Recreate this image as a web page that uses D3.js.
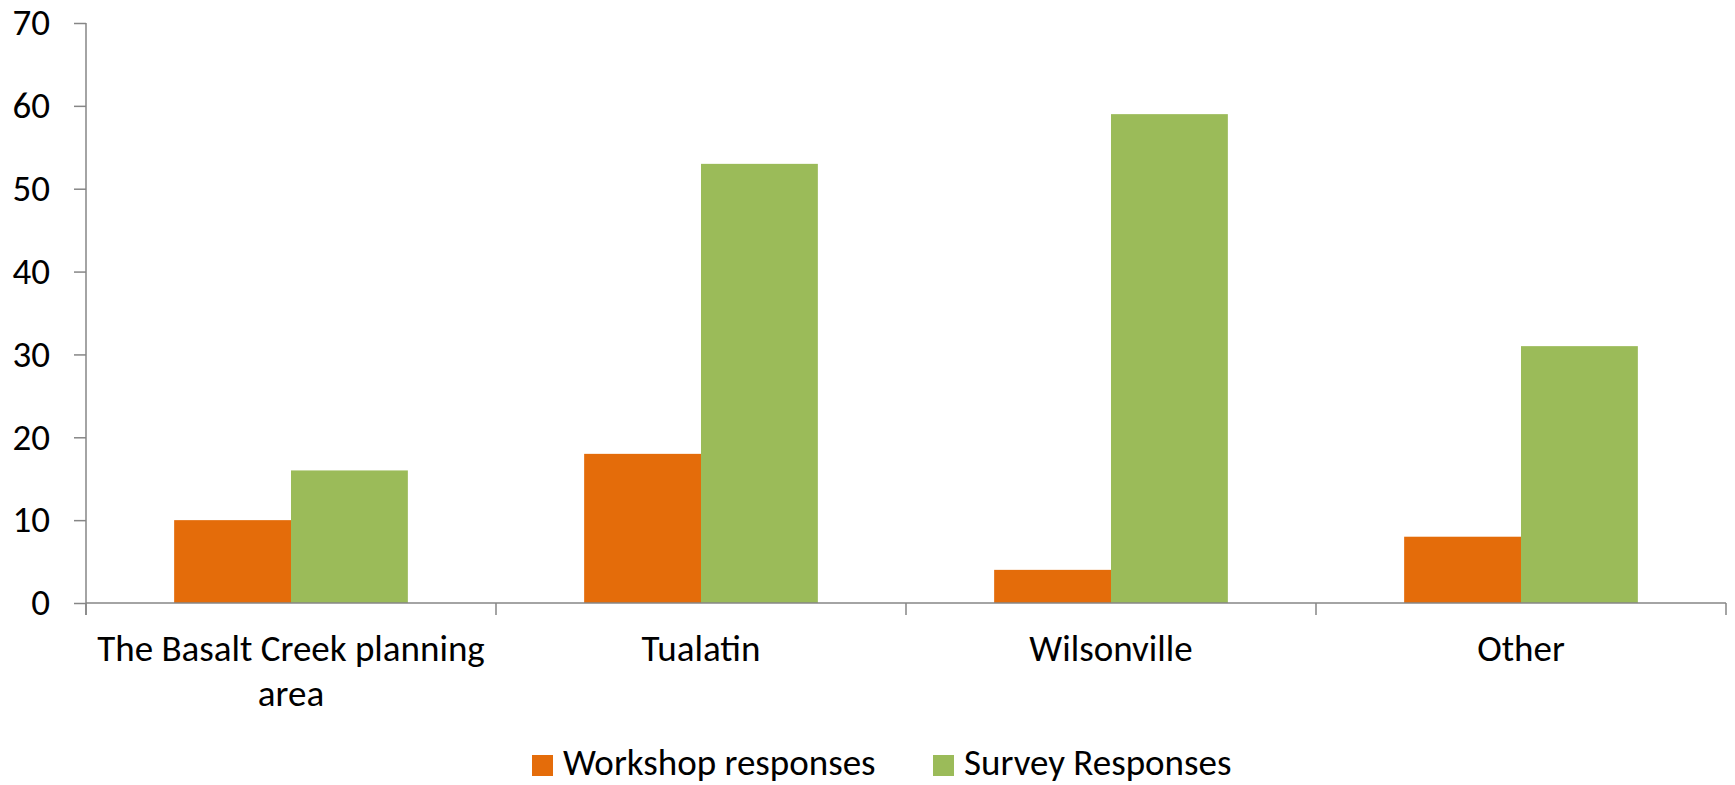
<!DOCTYPE html>
<html>
<head>
<meta charset="utf-8">
<script src="https://cdn.jsdelivr.net/npm/d3@7"></script>
<style>
  html, body { margin: 0; padding: 0; background: #ffffff; }
  svg text { font-family: Carlito, Calibri, Lato, sans-serif; fill: #000; }
</style>
</head>
<body>
<svg id="chart" width="1735" height="785"></svg>
<script>
// Where respondents live: workshop vs. survey responses
const categories = ["The Basalt Creek planning area", "Tualatin", "Wilsonville", "Other"];
const seriesNames = ["Workshop responses", "Survey Responses"];
const workshopValues = [10, 18, 4, 8];
const surveyValues = [16, 53, 59, 31];
const yTicks = [0, 10, 20, 30, 40, 50, 60, 70];
const seriesColors = ["#E46C0A", "#9BBB59"];

const seriesValues = [workshopValues, surveyValues];
const rows = categories.map((c, i) => ({
  category: c,
  values: seriesNames.map((s, j) => ({ series: s, value: seriesValues[j][i] }))
}));

const svg = d3.select("#chart");
const plot = { left: 86, right: 1726, top: 23, bottom: 603 };
const fontSize = 37;
const axisColor = "#868686";

const y = d3.scaleLinear().domain([0, 70]).range([plot.bottom, plot.top]);
const x0 = d3.scaleBand().domain(categories).range([plot.left, plot.right])
  .paddingInner(0.43).paddingOuter(0.215);
const x1 = d3.scaleBand().domain(seriesNames).range([0, x0.bandwidth()]);
const color = d3.scaleOrdinal().domain(seriesNames).range(seriesColors);

// bars
const groups = svg.append("g").selectAll("g").data(rows).join("g")
  .attr("transform", d => `translate(${x0(d.category)},0)`);
groups.selectAll("rect").data(d => d.values).join("rect")
  .attr("x", d => x1(d.series))
  .attr("width", x1.bandwidth())
  .attr("y", d => y(d.value))
  .attr("height", d => y(0) - y(d.value))
  .attr("fill", d => color(d.series));

// y axis
const yAxis = svg.append("g")
  .attr("transform", `translate(${plot.left},0)`)
  .call(d3.axisLeft(y).tickValues(yTicks).tickSize(12).tickPadding(24).tickFormat(d3.format("d")));
yAxis.select(".domain").attr("stroke", axisColor).attr("stroke-width", 1.5)
  .attr("d", `M0,${plot.top}V${plot.bottom + 12}`);
yAxis.selectAll(".tick line").attr("stroke", axisColor).attr("stroke-width", 1.5);
yAxis.selectAll(".tick text").attr("font-size", fontSize).attr("font-family", null).attr("fill", "#000");

// x axis: baseline, ticks at category boundaries, labels centred in each band
const step = x0.step();
const boundaries = d3.range(categories.length + 1).map(i => plot.left + i * step);
const xAxis = svg.append("g");
xAxis.append("line")
  .attr("x1", plot.left).attr("x2", plot.right)
  .attr("y1", y(0)).attr("y2", y(0))
  .attr("stroke", axisColor).attr("stroke-width", 1.5);
xAxis.selectAll("line.tick").data(boundaries).join("line")
  .attr("class", "tick")
  .attr("x1", d => d).attr("x2", d => d)
  .attr("y1", y(0)).attr("y2", y(0) + 12)
  .attr("stroke", axisColor).attr("stroke-width", 1.5);

const labels = xAxis.selectAll("text").data(categories).join("text")
  .attr("text-anchor", "middle")
  .attr("font-size", fontSize)
  .attr("x", d => x0(d) + x0.bandwidth() / 2)
  .attr("y", 661);

// wrap labels that are wider than one category step
labels.each(function (d) {
  const t = d3.select(this);
  const cx = +t.attr("x");
  const words = d.split(" ");
  let line = [];
  let tspan = t.append("tspan").attr("x", cx).attr("dy", 0);
  for (const w of words) {
    line.push(w);
    tspan.text(line.join(" "));
    if (tspan.node().getComputedTextLength() > step - 8 && line.length > 1) {
      line.pop();
      tspan.text(line.join(" "));
      line = [w];
      tspan = t.append("tspan").attr("x", cx).attr("dy", 45).text(w);
    }
  }
});

// legend
const legend = svg.append("g").attr("transform", "translate(532,755)");
const legendOffsets = [0, 401];
const items = legend.selectAll("g").data(seriesNames).join("g")
  .attr("transform", (d, i) => `translate(${legendOffsets[i]},0)`);
items.append("rect").attr("width", 21).attr("height", 21).attr("fill", d => color(d));
items.append("text").attr("x", 31).attr("y", 20).attr("font-size", fontSize).text(d => d);
</script>
</body>
</html>
